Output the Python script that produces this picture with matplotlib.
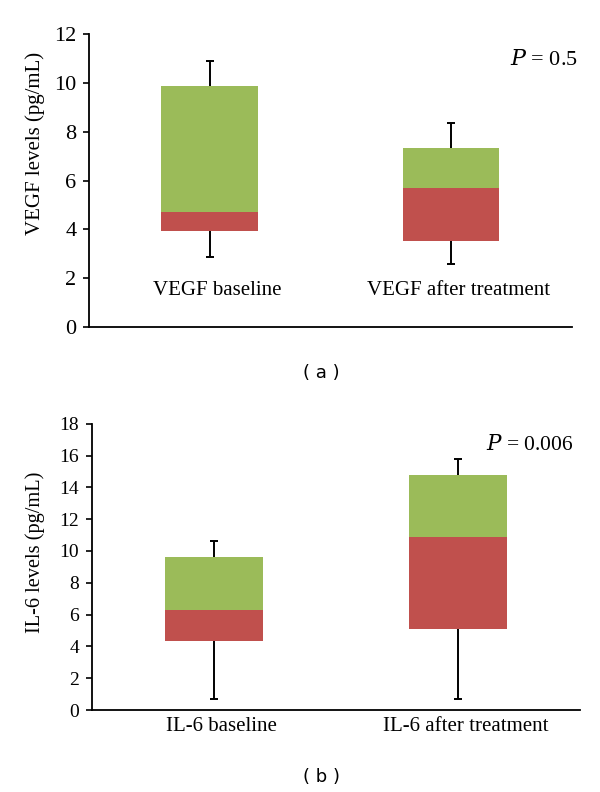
import matplotlib.pyplot as plt
import numpy as np

# panel (a): VEGF
vegf_labels = ['VEGF baseline', 'VEGF after treatment']
vegf_q1 = [3.95, 3.52]
vegf_median = [4.71, 5.70]
vegf_q3 = [9.89, 7.35]
vegf_min = [2.88, 2.59]
vegf_max = [10.89, 8.35]

# panel (b): IL-6
il6_labels = ['IL-6 baseline', 'IL-6 after treatment']
il6_q1 = [4.36, 5.07]
il6_median = [6.31, 10.86]
il6_q3 = [9.62, 14.80]
il6_min = [0.69, 0.69]
il6_max = [10.63, 15.80]

RED = '#C0504D'
GREEN = '#9BBB59'
SERIF = ['Liberation Serif', 'DejaVu Serif']

plt.rcParams['font.family'] = SERIF
plt.rcParams['font.size'] = 15


def box_panel(ax, labels, q1, med, q3, lo, hi):
    x = np.arange(len(labels))
    q1 = np.array(q1); med = np.array(med); q3 = np.array(q3)
    lo = np.array(lo); hi = np.array(hi)
    ax.bar(x, med - q1, bottom=q1, width=0.4, color=RED, zorder=2)
    ax.bar(x, q3 - med, bottom=med, width=0.4, color=GREEN, zorder=2)
    # whiskers, caps only at the far ends
    ax.vlines(x, q3, hi, color='black', lw=1.4, zorder=1)
    ax.vlines(x, lo, q1, color='black', lw=1.4, zorder=1)
    ax.plot(x, hi, ls='none', marker='_', ms=5.5, mew=1.4, color='black')
    ax.plot(x, lo, ls='none', marker='_', ms=5.5, mew=1.4, color='black')
    ax.set_xlim(-0.5, len(labels) - 0.5)
    for s in ['top', 'right']:
        ax.spines[s].set_visible(False)
    for s in ['left', 'bottom']:
        ax.spines[s].set_linewidth(1.3)
    ax.tick_params(axis='y', direction='out', length=4, width=1.2, pad=5)
    ax.set_xticks([])
    return x


fig = plt.figure(figsize=(6, 7.92), dpi=100)

ax1 = fig.add_axes([0.148, 0.587, 0.805, 0.370])
x1 = box_panel(ax1, vegf_labels, vegf_q1, vegf_median, vegf_q3, vegf_min, vegf_max)
ax1.set_ylim(0, 12)
ax1.set_yticks(range(0, 13, 2))
ax1.tick_params(axis='y', labelsize=16)
for xi, lab in zip(x1, vegf_labels):
    ax1.text(xi + 0.03, 1.5, lab, ha='center', va='center')
ax1.set_ylabel('VEGF levels (pg/mL)', fontsize=15)
ax1.yaxis.set_label_coords(-0.090, 0.626)
ax1.text(1.012, 0.911, r'$P$ = 0.5', transform=ax1.transAxes, ha='right', va='center',
         fontsize=16, math_fontfamily='dejavuserif')

ax2 = fig.add_axes([0.153, 0.1035, 0.814, 0.3615])
x2 = box_panel(ax2, il6_labels, il6_q1, il6_median, il6_q3, il6_min, il6_max)
ax2.set_ylim(0, 18)
ax2.set_yticks(range(0, 19, 2))
ax2.tick_params(axis='y', labelsize=14)
for xi, lab in zip(x2, il6_labels):
    ax2.text((xi + 0.53) / 2, -0.058, lab, transform=ax2.transAxes, ha='center', va='center')
ax2.set_ylabel('IL-6 levels (pg/mL)', fontsize=14.7)
ax2.yaxis.set_label_coords(-0.095, 0.552)
ax2.text(0.986, 0.927, r'$P$ = 0.006', transform=ax2.transAxes, ha='right', va='center',
         fontsize=15.5, math_fontfamily='dejavuserif')

fig.text(0.536, 0.529, '( a )', ha='center', va='center', family='DejaVu Sans', fontsize=13)
fig.text(0.536, 0.019, '( b )', ha='center', va='center', family='DejaVu Sans', fontsize=13)

fig.savefig('out.png', dpi=100)
